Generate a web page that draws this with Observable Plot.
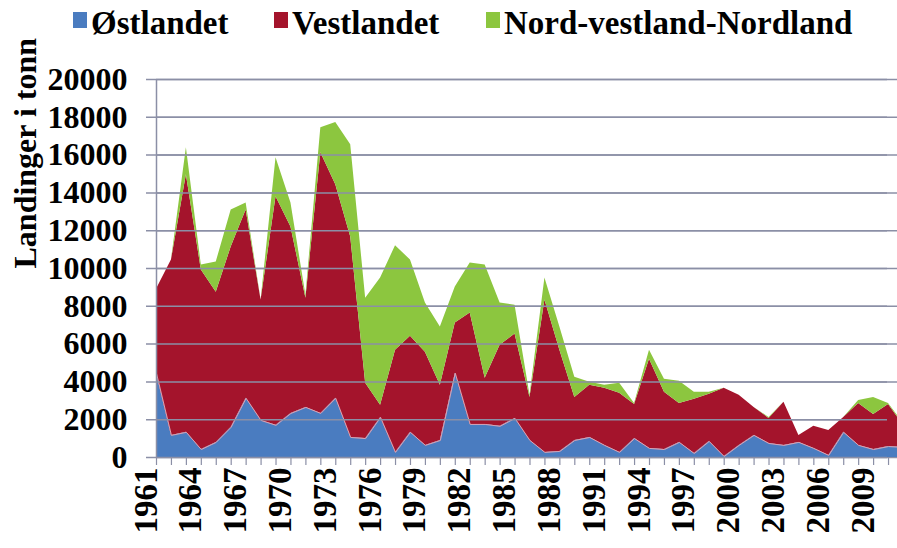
<!DOCTYPE html>
<html><head><meta charset="utf-8">
<script src="https://cdn.jsdelivr.net/npm/d3@7"></script>
<script src="https://cdn.jsdelivr.net/npm/@observablehq/plot@0.6"></script>
<style>
body{margin:0;background:#fff;font-family:"Liberation Serif","Times New Roman",serif;}
#legend{position:relative;height:56px;width:897px;overflow:hidden;}
.item{position:absolute;top:3px;font-weight:bold;font-size:33px;line-height:40px;white-space:nowrap;color:#000;}
.sw{position:absolute;top:12px;width:14px;height:16px;}
</style></head><body>
<div id="legend"></div>
<div id="chart"></div>
<script>
const years = [1961,1962,1963,1964,1965,1966,1967,1968,1969,1970,1971,1972,1973,1974,1975,1976,1977,1978,1979,1980,1981,1982,1983,1984,1985,1986,1987,1988,1989,1990,1991,1992,1993,1994,1995,1996,1997,1998,1999,2000,2001,2002,2003,2004,2005,2006,2007,2008,2009,2010,2011];
const ostlandet = [4450,1170,1330,420,800,1600,3130,1960,1700,2330,2650,2330,3130,1060,1000,2120,270,1330,640,900,4460,1750,1750,1650,2070,900,270,320,900,1060,640,270,1000,480,420,800,210,850,50,640,1170,740,640,800,480,110,1330,640,420,580,530];
const vestlandet = [4450,9280,13630,9500,7950,9540,9970,6370,12090,9870,5780,13800,11300,10610,2930,640,5410,5090,4930,2920,2650,5890,2440,4290,4460,2280,8060,5360,2280,2760,3020,3130,1810,4720,3030,2060,2870,2490,3610,2650,1480,1330,2280,370,1170,1320,790,2220,1860,2230,1170];
const nordvestland = [0,0,1430,270,1590,1960,370,0,2070,1270,160,1320,3290,4880,4500,6740,5520,4030,2600,3080,1910,2650,6000,2230,1530,110,1170,1220,1060,160,160,530,50,480,690,1170,370,110,0,0,0,50,0,0,0,0,0,160,900,50,100];
const series = ["Østlandet","Vestlandet","Nord-vestland-Nordland"];
const colors = ["#4a7cc0","#a4142c","#8cc63f"];
const yTicks = [0,2000,4000,6000,8000,10000,12000,14000,16000,18000,20000];
const labelYears = [1961,1964,1967,1970,1973,1976,1979,1982,1985,1988,1991,1994,1997,2000,2003,2006,2009];

const rows = [];
const vals = [ostlandet, vestlandet, nordvestland];
years.forEach((y,i)=>series.forEach((s,k)=>rows.push({year:y, series:s, value:vals[k][i]})));

const legendPos = [73, 274, 486];
const lg = document.getElementById("legend");
series.forEach((s,k)=>{
  const sw = document.createElement("div");
  sw.className="sw"; sw.style.left=legendPos[k]+"px"; sw.style.background=colors[k];
  lg.appendChild(sw);
  const t = document.createElement("div");
  t.className="item"; t.style.left=(legendPos[k]+18)+"px"; t.textContent=s;
  lg.appendChild(t);
});

const FF = "Liberation Serif";
const gridColor = "#8b8fa6";
const chart = Plot.plot({
  width: 897, height: 492,
  marginLeft: 156, marginRight: 0, marginTop: 23, marginBottom: 91,
  style: {background: "#fff", overflow: "visible"},
  x: {type: "linear", domain: [1961, 2010.6], axis: null},
  y: {domain: [0, 20000], axis: null},
  color: {domain: series, range: colors},
  marks: [
    Plot.ruleY(yTicks, {stroke: gridColor, strokeWidth: 1.5}),
    Plot.areaY(rows, {x: "year", y: "value", fill: "series", order: series, clip: true}),
    Plot.lineY(rows, Plot.stackY2({x: "year", y: "value", z: "series", order: series, filter: d => d.series === series[0], stroke: "#d9a3b4", strokeWidth: 1, clip: true})),
    Plot.ruleX([1961], {stroke: gridColor, strokeWidth: 1.5}),
    Plot.ruleY([0], {stroke: gridColor, strokeWidth: 1}),
    Plot.axisX(years.filter(y => y <= 2010), {tickSize: 8, tickFormat: () => "", stroke: gridColor, strokeWidth: 1.2, label: null}),
    Plot.tickY(yTicks, {y: d => d, frameAnchor: "left", stroke: gridColor, strokeWidth: 1.5, dx: -10, x: null}),
    Plot.text(yTicks, {y: d => d, frameAnchor: "left", textAnchor: "end", dx: -29, text: d => String(d), fontSize: 32, fontFamily: FF, fontWeight: "bold", fill: "#000"}),
    Plot.text(labelYears, {x: d => d, frameAnchor: "bottom", rotate: -90, textAnchor: "end", dy: 10, text: d => String(d), fontSize: 33, fontFamily: FF, fontWeight: "bold", fill: "#000"}),
    Plot.text(["Landinger i tonn"], {frameAnchor: "left", dx: -131, rotate: -90, fontSize: 32, fontFamily: FF, fontWeight: "bold", fill: "#000"})
  ]
});
document.getElementById("chart").appendChild(chart);
</script>
</body></html>
